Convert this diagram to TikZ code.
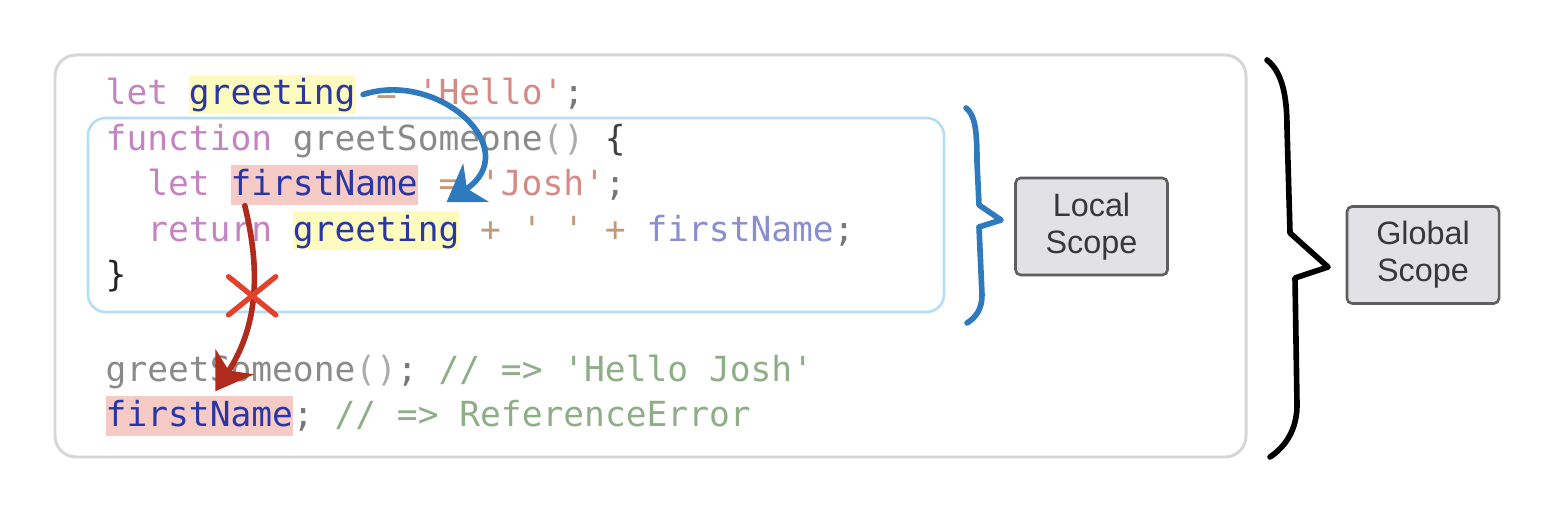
\documentclass[tikz,border=0pt]{standalone}
\usepackage{fontspec}
\setmainfont{Liberation Sans}
\setmonofont{DejaVu Sans Mono}
\usetikzlibrary{arrows.meta}
\usetikzlibrary{shapes.misc}

\definecolor{kwpurple}{HTML}{C683C1}
\definecolor{idblue}{HTML}{2B36A6}
\definecolor{optan}{HTML}{C39A78}
\definecolor{strsalmon}{HTML}{D58A86}
\definecolor{fngray}{HTML}{8A8A8A}
\definecolor{parengray}{HTML}{ABABAB}
\definecolor{punctgray}{HTML}{777777}
\definecolor{refpurple}{HTML}{8A8DCF}
\definecolor{cmtgreen}{HTML}{8DAE86}
\definecolor{hlyellow}{HTML}{FDFBBE}
\definecolor{hlpink}{HTML}{F6CBC5}
\definecolor{framegray}{HTML}{D6D6D6}
\definecolor{localblue}{HTML}{B5DDF8}
\definecolor{chalkblue}{HTML}{2F79BE}
\definecolor{chalkred}{HTML}{B02B1B}
\definecolor{crossred}{HTML}{E2412B}
\definecolor{boxfill}{HTML}{E2E1E5}
\definecolor{boxline}{HTML}{5E5E5E}

\newcommand{\codefont}{\ttfamily\fontsize{9.83}{12}\selectfont}
\newcommand{\cx}[1]{105+20.8*#1}

\tikzset{
        code/.style={anchor=base west, inner sep=0pt, font=\codefont},
        % Keywords and plain tokens
        code_kw/.style={code, text=kwpurple},
        code_id/.style={code, text=idblue},
        code_op/.style={code, text=optan},
        code_str/.style={code, text=strsalmon},
        code_fn/.style={code, text=fngray},
        code_punct/.style={code, text=punctgray},
        code_cmt/.style={code, text=cmtgreen},
        % Highlighted variables
        hl_yellow/.style={code_id, fill=hlyellow, text height=0.30cm, text depth=0.09cm},
        hl_pink/.style={code_id, fill=hlpink, text height=0.31cm, text depth=0.09cm},
        % Scope labels
        scope_box/.style={draw=boxline, fill=boxfill, line width=0.75pt, rounded corners=1.5pt,
            minimum width=1.52cm, minimum height=0.97cm, inner sep=0pt, align=center,
            text=black!78, font=\fontsize{9.2}{10.6}\selectfont},
        % Hand drawn strokes
        chalk/.style={line width=1.6pt, line cap=round, line join=round},
        arrow_blue/.style={chalk, draw=chalkblue, -{Stealth[length=10pt, width=13pt, inset=3pt]}},
        arrow_red/.style={chalk, draw=chalkred, -{Stealth[length=10pt, width=13pt, inset=3pt]}},
        cross_mark/.style={cross out, draw=crossred, line width=1.5pt, line cap=round,
            minimum width=0.42cm, minimum height=0.33cm, inner sep=0pt}
}

\begin{document}
\begin{tikzpicture}[x=0.01cm, y=-0.01cm]
    \useasboundingbox (0,0) rectangle (1564,522);

    % frames
    \draw[framegray, line width=0.85pt, rounded corners=6pt] (55,55) rectangle (1246,457);
    \draw[localblue, line width=0.75pt, rounded corners=5pt] (88,118) rectangle (944,312);

    % let greeting = 'Hello';
    \node[code_kw] (let1) at ({\cx{0}},105) {let};
    \node[hl_yellow] (greeting1) at ({\cx{4}},105) {greeting};
    \node[code_op] (assign1) at ({\cx{13}},105) {=};
    \node[code_str] (hello1) at ({\cx{15}},105) {'Hello'};
    \node[code_punct] (semi1) at ({\cx{22}},105) {;};

    % function greetSomeone() {
    \node[code_kw] (function2) at ({\cx{0}},150.5) {function};
    \node[code_fn] (name2) at ({\cx{9}},150.5) {greetSomeone};
    \node[code, text=parengray] (paren2) at ({\cx{21}},150.5) {()};
    \node[code, text=black!75] (open2) at ({\cx{24}},150.5) {\{};

    % let firstName = 'Josh';
    \node[code_kw] (let3) at ({\cx{2}},196) {let};
    \node[hl_pink] (firstname3) at ({\cx{6}},196) {firstName};
    \node[code_op] (assign3) at ({\cx{16}},196) {=};
    \node[code_str] (josh3) at ({\cx{18}},196) {'Josh'};
    \node[code_punct] (semi3) at ({\cx{24}},196) {;};

    % return greeting + ' ' + firstName;
    \node[code_kw] (return4) at ({\cx{2}},241.5) {return};
    \node[hl_yellow] (greeting4) at ({\cx{9}},241.5) {greeting};
    \node[code_op] (concat4) at ({\cx{18}},241.5) {+ ' ' +};
    \node[code, text=refpurple] (firstname4) at ({\cx{26}},241.5) {firstName};
    \node[code_punct] (semi4) at ({\cx{35}},241.5) {;};

    \node[code, text=black!85] (close5) at ({\cx{0}},287) {\}};

    % greetSomeone(); // => 'Hello Josh'
    \node[code_fn] (call6) at ({\cx{0}},381.5) {greetSomeone};
    \node[code, text=parengray] (paren6) at ({\cx{12}},381.5) {()};
    \node[code_punct] (semi6) at ({\cx{14}},381.5) {;};
    \node[code_cmt] (comment6) at ({\cx{16}},381.5) {// => 'Hello Josh'};

    % firstName; // => ReferenceError
    \node[hl_pink] (firstname7) at ({\cx{0}},427) {firstName};
    \node[code_punct] (semi7) at ({\cx{9}},427) {;};
    \node[code_cmt] (comment7) at ({\cx{11}},427) {// => ReferenceError};

    % scope labels
    \node[scope_box] (localscope) at (1091.5,226.5) {Local\\Scope};
    \node[scope_box] (globalscope) at (1423,255) {Global\\Scope};

    % braces
    \draw[chalk, chalkblue] (966,108) .. controls (975,115) and (977,130) .. (977,162)
        -- (979,205) -- (1001,220) -- (979,227) -- (982,295)
        .. controls (982,310) and (975,318) .. (967,323);
    \draw[chalk, black] (1267,60) .. controls (1282,72) and (1287,95) .. (1287,128)
        -- (1290,233) -- (1328,267) -- (1295,278) -- (1297,405)
        .. controls (1297,430) and (1285,447) .. (1270,457);

    % greeting is visible inside the function
    \draw[arrow_blue] ([shift={(7,0)}]greeting1.east) .. controls (440,70) and (525,150)
        .. ([shift={(-13.6,-8.5)}]greeting4.north east);
    % firstName is not visible outside
    \draw[arrow_red] ([shift={(15,0)}]firstname3.south west) .. controls (258,260) and (262,320)
        .. ([shift={(16,-4)}]firstname7.north) node[cross_mark, pos=0.52] (blocked) {};
\end{tikzpicture}
\end{document}
